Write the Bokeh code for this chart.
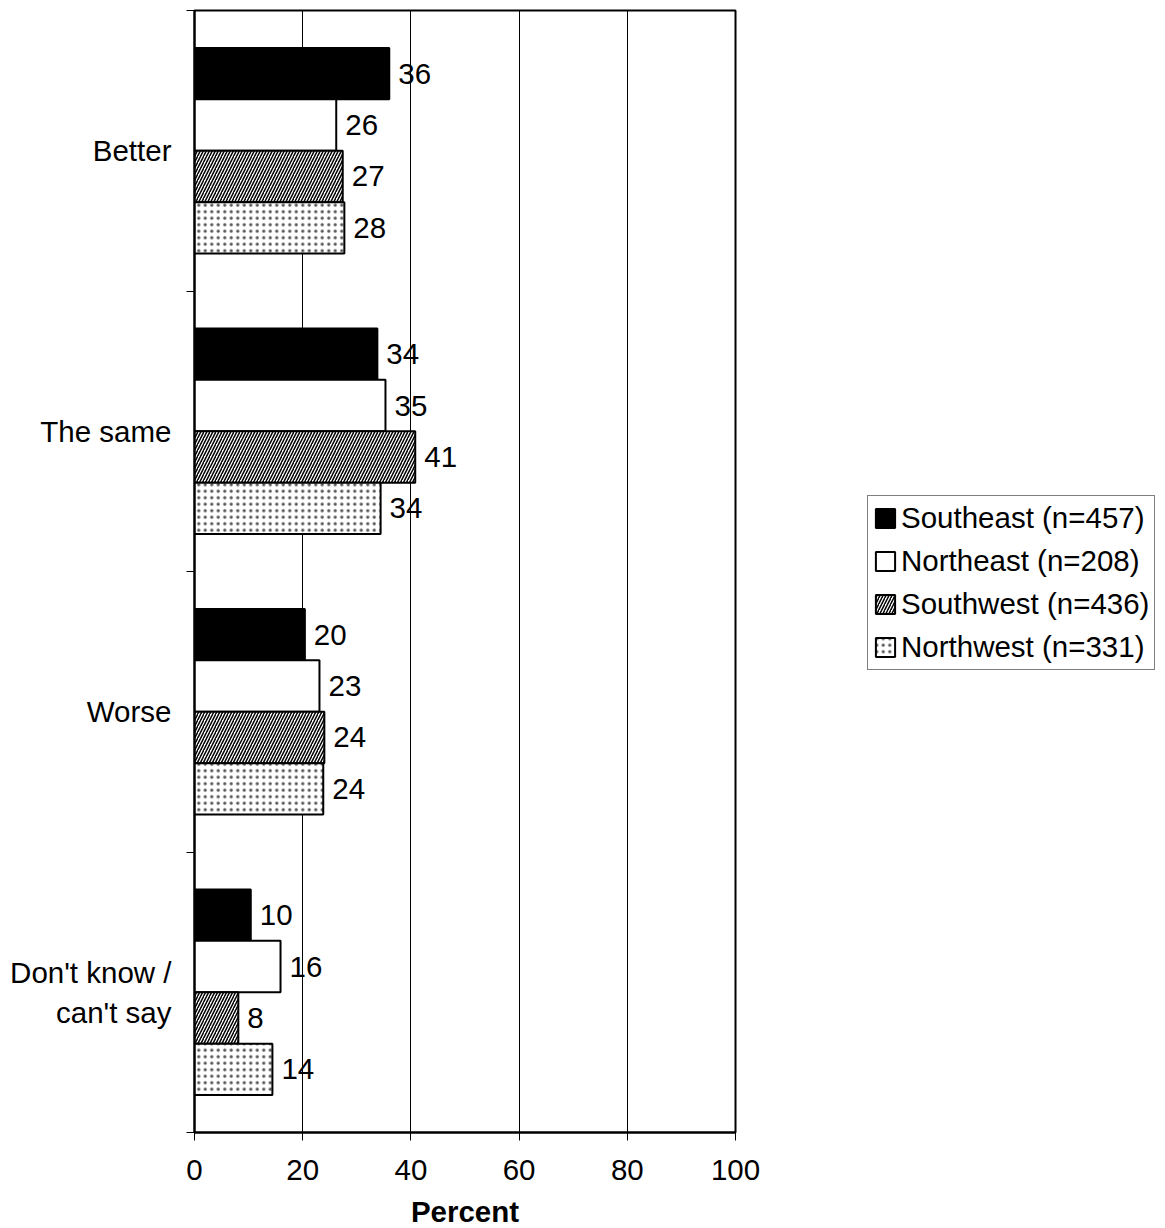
from bokeh.plotting import figure
from bokeh.models import (ColumnDataSource, FactorRange, Range1d, LinearAxis, CategoricalAxis,
                          FixedTicker, Legend, LegendItem)
from bokeh.transform import dodge
from bokeh.core.properties import value
from bokeh.embed import file_html
from bokeh.resources import INLINE

categories = ["Better", "The same", "Worse", "Don't know /\ncan't say"]
series_names = ["Southeast (n=457)", "Northeast (n=208)", "Southwest (n=436)", "Northwest (n=331)"]
southeast = [36.0, 33.8, 20.4, 10.4]
northeast = [26.2, 35.3, 23.1, 15.9]
southwest = [27.4, 40.8, 24.0, 8.1]
northwest = [27.7, 34.4, 23.8, 14.4]
x_ticks = [0, 20, 40, 60, 80, 100]
boundary_ticks = [0, 1, 2, 3, 4]

FONT = "Liberation Sans"
FS = "29.5px"

data = dict(cat=categories, se=southeast, ne=northeast, sw=southwest, nw=northwest)
for k in ["se", "ne", "sw", "nw"]:
    data[k + "_lbl"] = [f"{v:.0f}" for v in data[k]]
src = ColumnDataSource(data)

p = figure(y_range=FactorRange(factors=categories[::-1]), x_range=Range1d(0, 100),
           frame_width=541, frame_height=1122, output_backend="svg", toolbar_location=None,
           y_axis_location=None, min_border_left=194, min_border_top=10, min_border_right=428,
           min_border_bottom=0)

# x axis styling
xa = p.xaxis[0]
xa.ticker = FixedTicker(ticks=x_ticks)
xa.axis_label = "Percent"
xa.axis_label_text_font = FONT
xa.axis_label_text_font_size = FS
xa.axis_label_text_font_style = "bold"
xa.axis_label_text_color = "black"
xa.axis_label_standoff = 12
xa.major_label_text_font = FONT
xa.major_label_text_font_size = FS
xa.major_label_text_color = "black"
xa.major_label_standoff = 19
xa.axis_line_width = 2
xa.axis_line_color = "black"
xa.major_tick_out = 8
xa.major_tick_in = 0
xa.major_tick_line_color = "black"
xa.minor_tick_line_color = None

# left: boundary ticks axis (category borders), then category labels axis
tick_axis = LinearAxis(ticker=FixedTicker(ticks=boundary_ticks))
tick_axis.major_label_overrides = {t: "" for t in boundary_ticks}
tick_axis.major_tick_out = 8
tick_axis.major_tick_in = 0
tick_axis.minor_tick_line_color = None
tick_axis.axis_line_width = 2
tick_axis.axis_line_color = "black"
tick_axis.major_tick_line_color = "black"
tick_axis.major_label_standoff = 0
p.add_layout(tick_axis, "left")

cat_axis = CategoricalAxis()
cat_axis.axis_line_color = None
cat_axis.major_tick_line_color = None
cat_axis.major_tick_out = 0
cat_axis.major_tick_in = 0
cat_axis.major_label_text_font = FONT
cat_axis.major_label_text_font_size = FS
cat_axis.major_label_text_color = "black"
cat_axis.major_label_standoff = 15
p.add_layout(cat_axis, "left")

p.xgrid.ticker = FixedTicker(ticks=x_ticks)
p.xgrid.grid_line_color = "black"
p.xgrid.grid_line_width = 1
p.ygrid.grid_line_color = None
p.outline_line_color = "black"
p.outline_line_width = 2
p.background_fill_color = "white"
p.border_fill_color = "white"

H = 0.183
offsets = [0.275, 0.0917, -0.0917, -0.275]
keys = ["se", "ne", "sw", "nw"]
styles = [
    dict(fill_color="black"),
    dict(fill_color="white"),
    dict(fill_color="white", hatch_pattern="right_diagonal_line", hatch_color="black",
         hatch_scale=6, hatch_weight=1.5),
    dict(fill_color="white", hatch_pattern="dot", hatch_color="#555555",
         hatch_scale=6.5, hatch_weight=1.6),
]
items = []
for key, off, st, name in zip(keys, offsets, styles, series_names):
    r = p.hbar(y=dodge("cat", off, range=p.y_range), right=key, left=0, height=H, source=src,
               line_color="black", line_width=2, **st)
    p.text(x=key, y=dodge("cat", off, range=p.y_range), text=key + "_lbl", source=src,
           x_offset=9, text_align="left", text_baseline="middle",
           text_font=value(FONT), text_font_size=value(FS), text_color="black")
    items.append(LegendItem(label=name, renderers=[r]))

legend = Legend(items=items, location=(132, 462))
legend.label_text_font = FONT
legend.label_text_font_size = FS
legend.label_text_color = "black"
legend.glyph_width = 24
legend.glyph_height = 24
legend.label_standoff = 4
legend.spacing = 9
legend.padding = 5
legend.margin = 0
legend.border_line_color = "black"
legend.border_line_width = 1
legend.background_fill_color = "white"
legend.background_fill_alpha = 1
p.add_layout(legend, "right")

open("out.html", "w").write(file_html(p, INLINE))
